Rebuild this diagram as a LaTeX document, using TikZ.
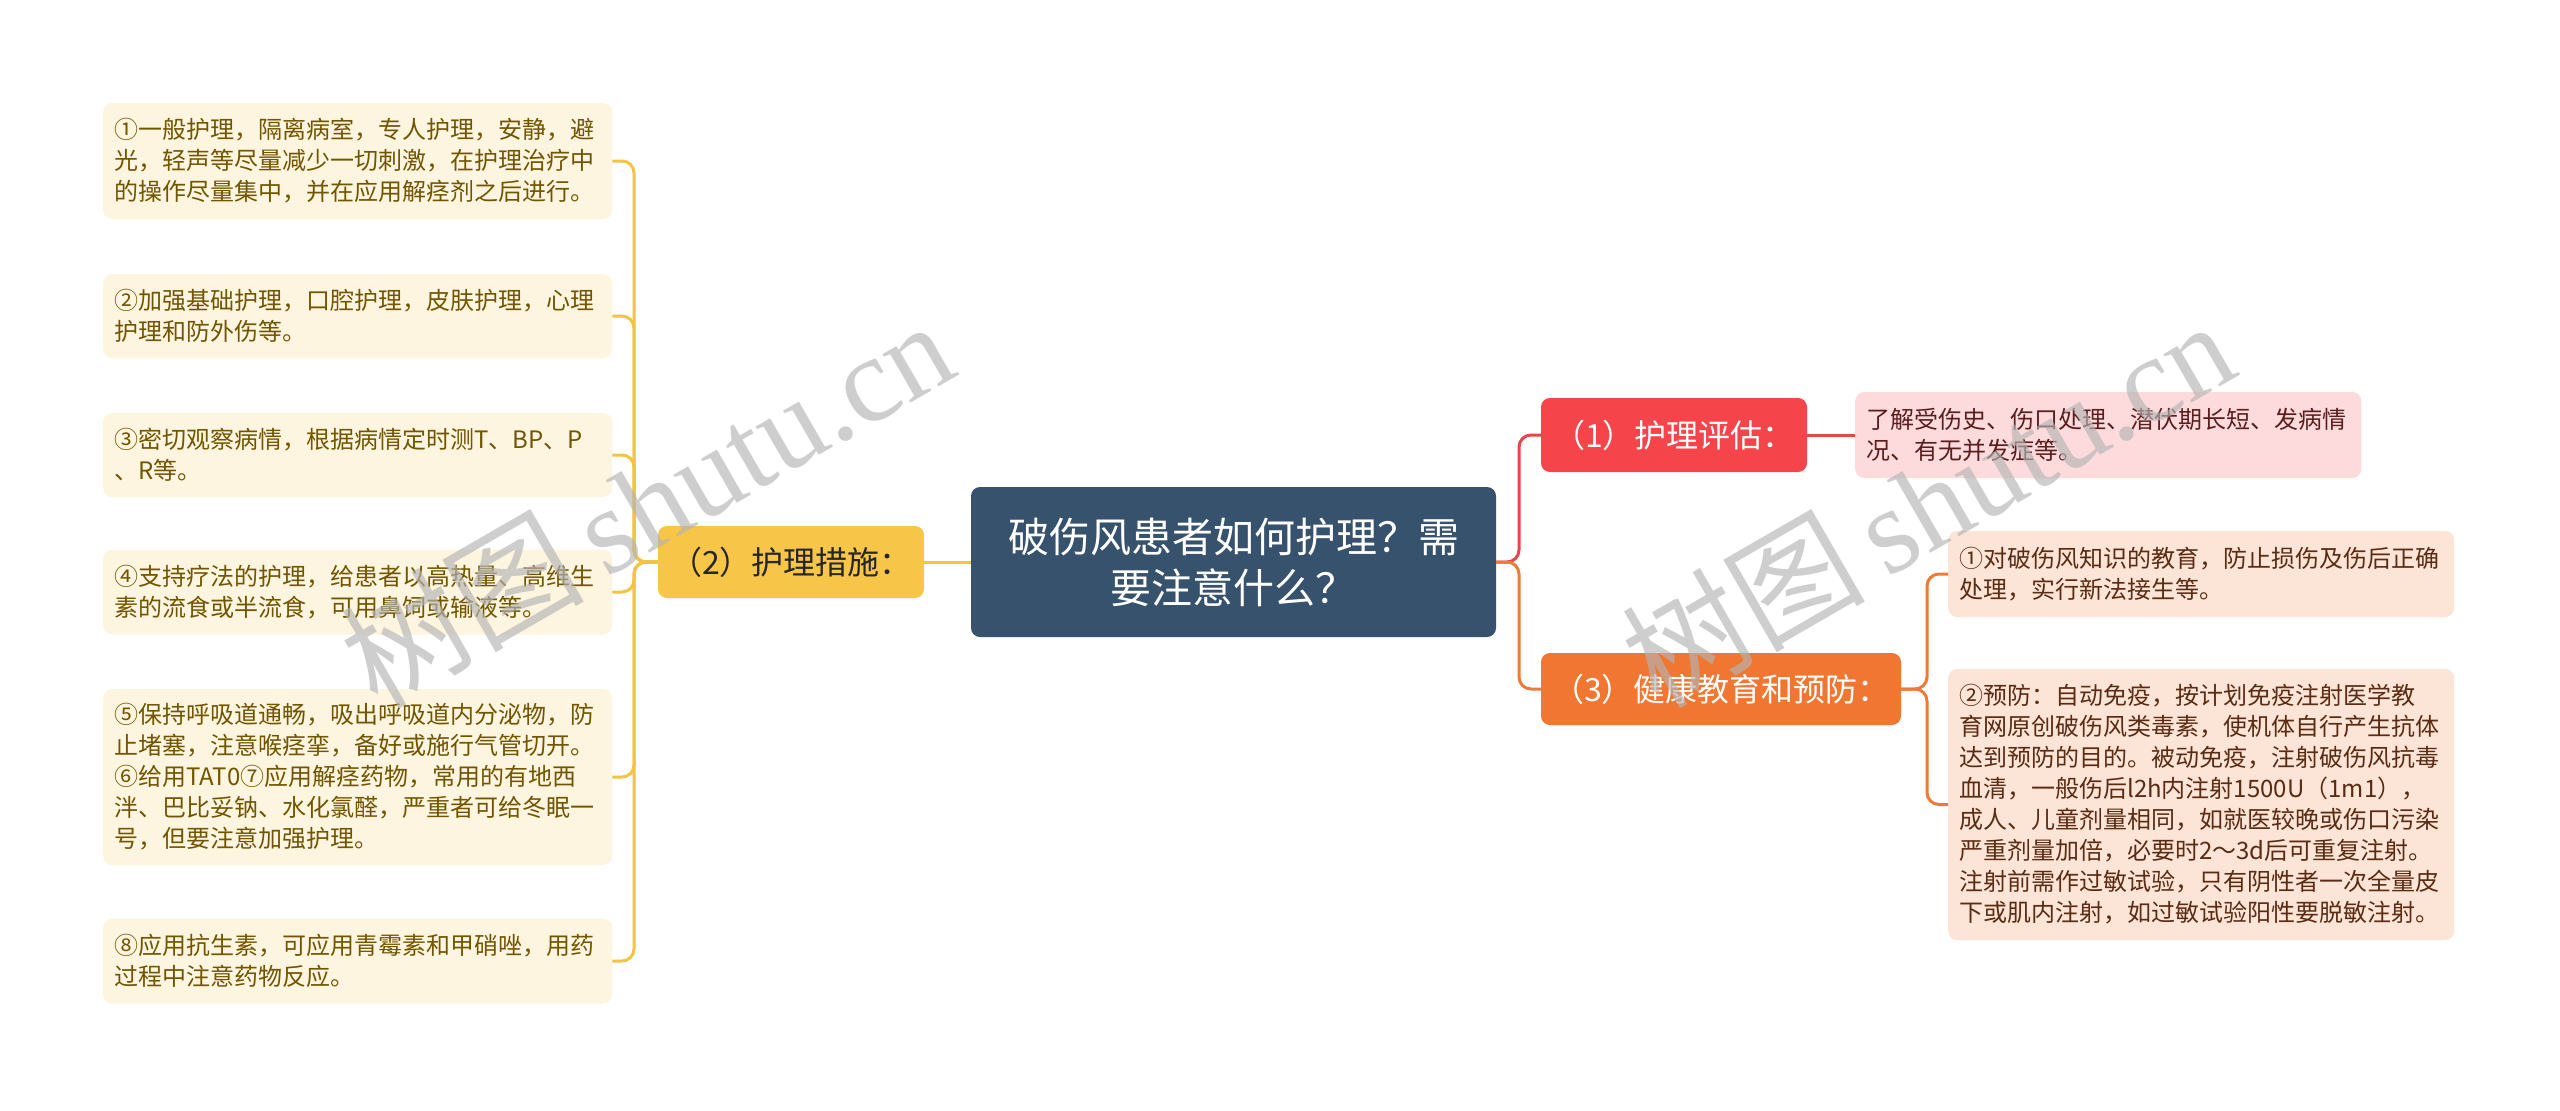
\documentclass[tikz,border=0pt]{standalone}
\usepackage{fontspec}
\setmainfont{Noto Sans CJK SC}
\newfontfamily\wmlatin{Liberation Serif}
\definecolor{lfill}{HTML}{FEF5E0}
\definecolor{ltext}{HTML}{725500}
\definecolor{yline}{HTML}{F5C343}
\definecolor{yfill}{HTML}{F7C548}
\definecolor{rootfill}{HTML}{37526D}
\definecolor{rfill}{HTML}{F5444A}
\definecolor{rline}{HTML}{E8464B}
\definecolor{ofill}{HTML}{F07632}
\definecolor{oline}{HTML}{EE7A38}
\definecolor{pfill}{HTML}{FDDBDC}
\definecolor{ptext}{HTML}{5A1E1E}
\definecolor{afill}{HTML}{FCE4D6}
\definecolor{atext}{HTML}{5A2C14}
\definecolor{wm}{HTML}{B4B4B4}
\begin{document}
\begin{tikzpicture}[x=1pt,y=-1pt,
  leafL/.style={fill=lfill, rounded corners=9pt, anchor=west, text width=487pt, inner xsep=11pt, inner ysep=0pt, align=left, text=ltext, font=\fontsize{24}{31}\selectfont},
  leafP/.style={fill=pfill, rounded corners=9pt, anchor=west, text width=484pt, inner xsep=11pt, inner ysep=0pt, align=left, text=ptext, font=\fontsize{24}{31}\selectfont},
  leafA/.style={fill=afill, rounded corners=9pt, anchor=west, text width=484pt, inner xsep=11pt, inner ysep=0pt, align=left, text=atext, font=\fontsize{24}{31}\selectfont},
  branch/.style={rounded corners=9pt, inner sep=0pt, align=center, font=\fontsize{32}{38}\selectfont},
  conn/.style={line width=3pt, rounded corners=12pt},
  wmark/.style={text=wm, opacity=0.65, rotate=30, font=\fontsize{122}{130}\selectfont}
]
\useasboundingbox[fill=white] (0,0) rectangle (2560,1111);

% root
\node[fill=rootfill, rounded corners=9pt, minimum width=525pt, minimum height=150pt, inner sep=0pt, align=center, text=white, font=\fontsize{41}{51}\selectfont] (root) at (1233.5,562) {破伤风患者如何护理？需\\要注意什么？};

% branches
\node[branch, fill=yfill, text=black!85, minimum width=266pt, minimum height=72pt] (n2) at (791,562) {（2）护理措施：};
\node[branch, fill=rfill, text=white, minimum width=266pt, minimum height=74pt] (n1) at (1674,435) {（1）护理评估：};
\node[branch, fill=ofill, text=white, minimum width=360pt, minimum height=72pt] (n3) at (1721,689) {（3）健康教育和预防：};

% left leaves
\node[leafL, minimum height=116pt] (b1) at (103,161) {①一般护理，隔离病室，专人护理，安静，避\\光，轻声等尽量减少一切刺激，在护理治疗中\\的操作尽量集中，并在应用解痉剂之后进行。};
\node[leafL, minimum height=84pt] (b2) at (103,316) {②加强基础护理，口腔护理，皮肤护理，心理\\护理和防外伤等。};
\node[leafL, minimum height=84pt] (b3) at (103,455) {③密切观察病情，根据病情定时测T、BP、P\\、R等。};
\node[leafL, minimum height=85pt] (b4) at (103,592) {④支持疗法的护理，给患者以高热量、高维生\\素的流食或半流食，可用鼻饲或输液等。};
\node[leafL, minimum height=176pt] (b5) at (103,777) {⑤保持呼吸道通畅，吸出呼吸道内分泌物，防\\止堵塞，注意喉痉挛，备好或施行气管切开。\\⑥给用TAT0⑦应用解痉药物，常用的有地西\\泮、巴比妥钠、水化氯醛，严重者可给冬眠一\\号，但要注意加强护理。};
\node[leafL, minimum height=85pt] (b6) at (103,961) {⑧应用抗生素，可应用青霉素和甲硝唑，用药\\过程中注意药物反应。};

% right leaves
\node[leafP, minimum height=86pt] (l1) at (1855,435) {了解受伤史、伤口处理、潜伏期长短、发病情\\况、有无并发症等。};
\node[leafA, minimum height=86pt] (l3a) at (1948,574) {①对破伤风知识的教育，防止损伤及伤后正确\\处理，实行新法接生等。};
\node[leafA, minimum height=271pt] (l3b) at (1948,804.5) {②预防：自动免疫，按计划免疫注射医学教\\育网原创破伤风类毒素，使机体自行产生抗体\\达到预防的目的。被动免疫，注射破伤风抗毒\\血清，一般伤后l2h内注射1500U（1m1），\\成人、儿童剂量相同，如就医较晚或伤口污染\\严重剂量加倍，必要时2～3d后可重复注射。\\注射前需作过敏试验，只有阴性者一次全量皮\\下或肌内注射，如过敏试验阳性要脱敏注射。};

% connectors
\coordinate (jL) at (634,562);
\coordinate (jR) at (1519,562);
\coordinate (j3) at (1927,689);
\draw[conn, yline] (root.west) -- (n2.east);
\foreach \b in {b1,b2,b3,b4,b5,b6} {\draw[conn, yline] (n2.west) -- (jL) |- (\b.east);}
\draw[conn, rline] (root.east) -- (jR) |- (n1.west);
\draw[conn, oline] (root.east) -- (jR) |- (n3.west);
\draw[conn, rline] (n1.east) -- (l1.west);
\draw[conn, oline] (n3.east) -- (j3) |- (l3a.west);
\draw[conn, oline] (n3.east) -- (j3) |- (l3b.west);

% watermarks
\node[wmark] (wm1) at (646,502) {树图\,{\wmlatin shutu.cn}};
\node[wmark] (wm2) at (1927,502) {树图\,{\wmlatin shutu.cn}};
\end{tikzpicture}
\end{document}
